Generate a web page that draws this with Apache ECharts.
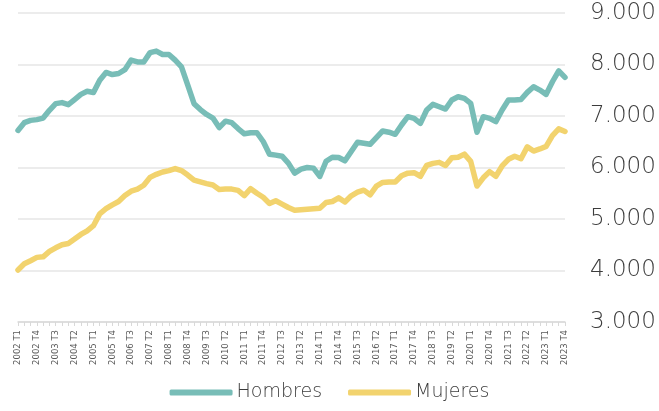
<!DOCTYPE html>
<html>
<head>
<meta charset="utf-8">
<script src="https://cdn.jsdelivr.net/npm/echarts@6/dist/echarts.min.js"></script>
<style>
  html, body { margin: 0; padding: 0; background: #fff; }
  #main { width: 659px; height: 411px; }
</style>
</head>
<body>
<div id="main"></div>
<script>
// años y trimestres (2002 T1 - 2023 T4)
var years = [2002, 2003, 2004, 2005, 2006, 2007, 2008, 2009, 2010, 2011, 2012,
             2013, 2014, 2015, 2016, 2017, 2018, 2019, 2020, 2021, 2022, 2023];
var quarters = ['T1', 'T2', 'T3', 'T4'];
var yTicks = [3000, 4000, 5000, 6000, 7000, 8000, 9000];

var hombres = [
  6720, 6870, 6915, 6930, 6960, 7110, 7240, 7260, 7220, 7320, 7420, 7480,
  7455, 7695, 7845, 7805, 7825, 7900, 8085, 8050, 8050, 8230, 8260, 8195,
  8195, 8085, 7955, 7600, 7240, 7125, 7030, 6960, 6775, 6900, 6870, 6755,
  6655, 6675, 6675, 6505, 6259, 6240, 6220, 6085, 5890, 5968, 6000, 5988,
  5826, 6120, 6200, 6194, 6130, 6310, 6490, 6470, 6450, 6580, 6710, 6685,
  6645, 6825, 6987, 6955, 6858, 7116, 7226, 7180, 7135, 7310, 7374, 7342,
  7245, 6684, 6987, 6955, 6890, 7116, 7310, 7310, 7320, 7458, 7568, 7503,
  7420, 7665, 7877, 7750
];
var mujeres = [
  4010, 4130, 4190, 4255, 4265, 4370, 4440, 4500, 4525, 4610, 4700, 4770,
  4870, 5100, 5200, 5275, 5340, 5455, 5540, 5580, 5655, 5808, 5867, 5913,
  5940, 5980, 5940, 5854, 5754, 5720, 5688, 5661, 5575, 5581, 5581, 5555,
  5455, 5588, 5500, 5422, 5302, 5355, 5290, 5223, 5170, 5180, 5190, 5200,
  5210, 5320, 5340, 5410, 5330, 5450, 5520, 5560, 5470, 5640, 5710, 5720,
  5720, 5840, 5890, 5900, 5830, 6040, 6080, 6100, 6040, 6190, 6200, 6260,
  6120, 5640, 5800, 5920, 5830, 6030, 6160, 6220, 6170, 6400, 6320, 6360,
  6410, 6620, 6750, 6700
];

var categories = [];
years.forEach(function(y){
    quarters.forEach(function(q){
        categories.push(y + ' ' + q);
    });
});

var textColor = '#595959';
var lightText = '#3c3c3c';
var font = 'DejaVu Sans';

var myChart = echarts.init(document.getElementById('main'));
var option = {
    animation: false,
    grid: {
        left: 18,
        right: 94,
        top: 13,
        bottom: 89
    },
    legend: {
        bottom: 4,
        left: 'center',
        icon: 'roundRect',
        itemWidth: 63,
        itemHeight: 6,
        itemGap: 26,
        textStyle: {
            color: lightText,
            fontFamily: font,
            fontWeight: 200,
            fontSize: 19,
            padding: [0, 0, 0, -1]
        },
        data: ['Hombres', 'Mujeres']
    },
    xAxis: {
        type: 'category',
        boundaryGap: false,
        data: categories,
        axisLine: {
            lineStyle: { color: '#d9d9d9', width: 1.5 }
        },
        axisTick: {
            show: true,
            interval: 0,
            length: 4,
            lineStyle: { color: '#d9d9d9' }
        },
        axisLabel: {
            interval: 2,
            rotate: 90,
            margin: 8,
            color: textColor,
            fontFamily: font,
            fontSize: 8.5
        },
        splitLine: { show: false }
    },
    yAxis: {
        type: 'value',
        position: 'right',
        min: yTicks[0],
        max: yTicks[yTicks.length - 1],
        interval: 1000,
        axisLine: { show: false },
        axisTick: { show: false },
        axisLabel: {
            margin: 25,
            color: lightText,
            fontFamily: font,
            fontWeight: 200,
            fontSize: 23,
            formatter: function(v){
                return String(v).replace(/\B(?=(\d{3})+(?!\d))/g, '.');
            }
        },
        splitLine: {
            lineStyle: { color: '#e6e6e6', width: 1.5 }
        }
    },
    series: [
        {
            name: 'Hombres',
            type: 'line',
            data: hombres,
            showSymbol: false,
            itemStyle: { color: '#78bdb7' },
            lineStyle: { color: '#78bdb7', width: 5.5, cap: 'round', join: 'round' }
        },
        {
            name: 'Mujeres',
            type: 'line',
            data: mujeres,
            showSymbol: false,
            itemStyle: { color: '#f2d36e' },
            lineStyle: { color: '#f2d36e', width: 5.5, cap: 'round', join: 'round' }
        }
    ]
};
myChart.setOption(option);
</script>
</body>
</html>
